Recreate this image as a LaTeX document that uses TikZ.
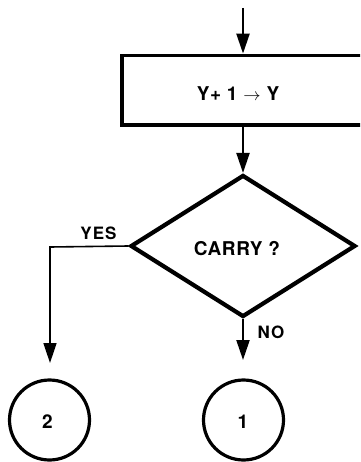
\documentclass[tikz,border=0pt]{standalone}
\usepackage{fontspec}
\setmainfont{TeX Gyre Heros}
\usetikzlibrary{arrows.meta,shapes.geometric,calc}
\tikzset{
  procbox/.style={draw, line width=3.8pt, rectangle, minimum width=242pt, minimum height=69.5pt, inner sep=0pt},
  decision/.style={draw, line width=4.2pt, diamond, minimum width=225pt, minimum height=142pt, inner sep=0pt, aspect=1.58},
  connector/.style={draw, line width=3.2pt, circle, minimum size=80pt, inner sep=0pt},
  flow/.style={line width=2.2pt, -{Triangle[length=20pt,width=13pt]}},
  txt/.style={font=\fontsize{19pt}{21pt}\selectfont\bfseries\addfontfeature{LetterSpace=3}, inner sep=0pt},
  lbl/.style={font=\fontsize{17pt}{19pt}\selectfont\bfseries\addfontfeature{LetterSpace=6}, inner sep=0pt}
}
\begin{document}
\begin{tikzpicture}[x=1pt,y=-1pt]
\useasboundingbox (0,0) rectangle (360,462);
\clip (0,0) rectangle (360,462);
\coordinate (start) at (243,8);
\node[procbox] (box) at (243,90.25) {};
\node[txt] (boxtext) at (238,93.5) {Y+ 1 $\rightarrow$ Y};
\node[decision] (dia) at (243,246) {};
\node[txt] (diatext) at (237,248.5) {CARRY ?};
\node[connector] (c2) at (49.5,420) {};
\node[txt] (c2t) at (47.5,421.5) {2};
\node[connector] (c1) at (243.5,420) {};
\node[txt] (c1t) at (243,422) {1};
\coordinate (yesend) at (50,363);
\coordinate (noend) at (243,360);
\draw[flow] (start) -- (box.north);
\draw[flow] (box.south) -- (dia.north);
\draw[flow, line width=1.6pt] (dia.west) -- (50,247) -- (yesend);
\draw[flow] (dia.south) -- (noend);
\node[lbl] (yes) at (98.5,233) {YES};
\node[lbl] (no) at (271,332) {NO};
\end{tikzpicture}
\end{document}
